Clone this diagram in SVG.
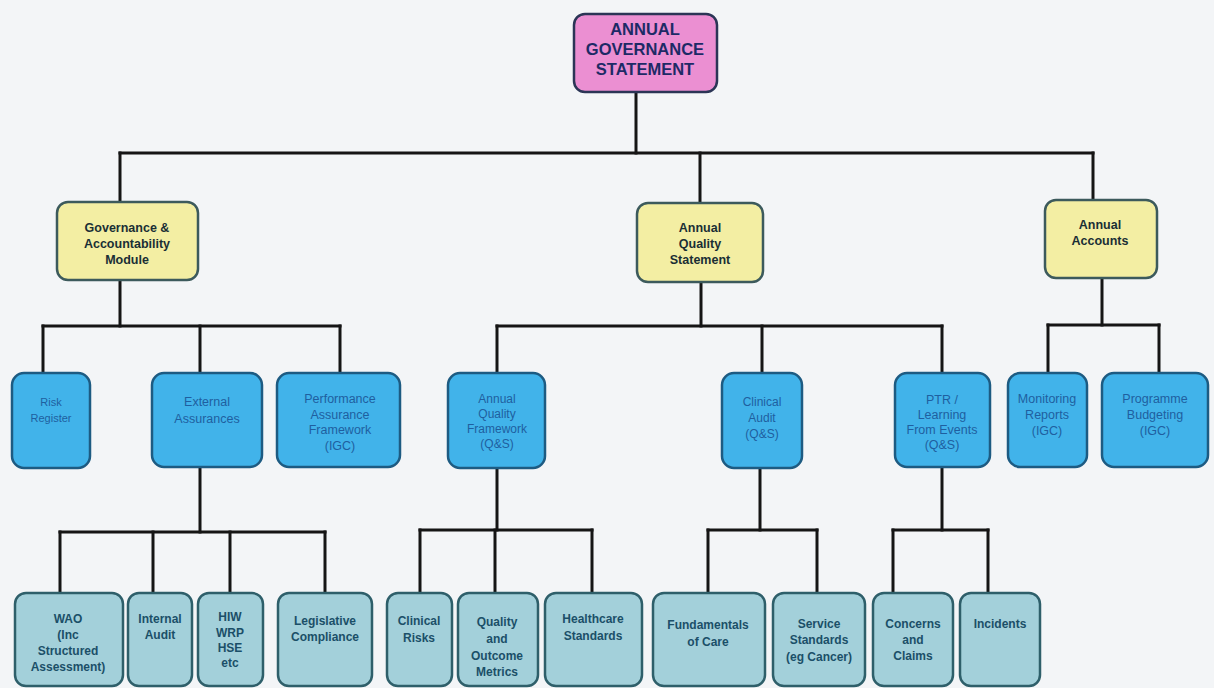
<svg xmlns="http://www.w3.org/2000/svg" width="1214" height="688" viewBox="0 0 1214 688">
<style>
.bg{fill:#f3f5f7}
.conn line{stroke:#151515;stroke-width:3;stroke-linecap:square}
.root rect{fill:#eb8fd2;stroke:#2b3556;stroke-width:2.5}
.root text{fill:#1d2a66;font-family:"Liberation Sans",Arial,sans-serif;font-weight:bold;font-size:16.5px;text-anchor:middle}
.l2 rect{fill:#f3eea3;stroke:#3c5a5c;stroke-width:2.5}
.l2 text{fill:#1a2e35;font-family:"Liberation Sans",Arial,sans-serif;font-weight:bold;font-size:12.5px;text-anchor:middle}
.l3 rect{fill:#41b3ea;stroke:#1d5b82;stroke-width:2.5}
.l3 text{fill:#1f5fa0;font-family:"Liberation Sans",Arial,sans-serif;font-size:12.5px;text-anchor:middle}
.l4 rect{fill:#a3d0da;stroke:#2e5f6a;stroke-width:2.5}
.l4 text{fill:#1b4f68;font-family:"Liberation Sans",Arial,sans-serif;font-weight:bold;font-size:12px;text-anchor:middle}
</style>
<rect class="bg" x="0" y="0" width="1214" height="688"/>
<g id="connectors" class="conn">
<line x1="636" y1="92" x2="636" y2="153"/>
<line x1="120" y1="153" x2="1093" y2="153"/>
<line x1="120" y1="153" x2="120" y2="202"/>
<line x1="700" y1="153" x2="700" y2="203"/>
<line x1="1093" y1="153" x2="1093" y2="200"/>
<line x1="120" y1="280" x2="120" y2="326"/>
<line x1="43" y1="326" x2="340" y2="326"/>
<line x1="43" y1="326" x2="43" y2="373"/>
<line x1="200" y1="326" x2="200" y2="373"/>
<line x1="340" y1="326" x2="340" y2="373"/>
<line x1="701" y1="282" x2="701" y2="326"/>
<line x1="497" y1="326" x2="942" y2="326"/>
<line x1="497" y1="326" x2="497" y2="373"/>
<line x1="762" y1="326" x2="762" y2="373"/>
<line x1="942" y1="326" x2="942" y2="373"/>
<line x1="1102" y1="278" x2="1102" y2="325"/>
<line x1="1048" y1="325" x2="1159" y2="325"/>
<line x1="1048" y1="325" x2="1048" y2="373"/>
<line x1="1159" y1="325" x2="1159" y2="373"/>
<line x1="200" y1="467" x2="200" y2="532"/>
<line x1="60" y1="532" x2="325" y2="532"/>
<line x1="60" y1="532" x2="60" y2="593"/>
<line x1="153" y1="532" x2="153" y2="593"/>
<line x1="230" y1="532" x2="230" y2="593"/>
<line x1="325" y1="532" x2="325" y2="593"/>
<line x1="497" y1="468" x2="497" y2="530"/>
<line x1="420" y1="530" x2="592" y2="530"/>
<line x1="420" y1="530" x2="420" y2="593"/>
<line x1="495" y1="530" x2="495" y2="593"/>
<line x1="592" y1="530" x2="592" y2="593"/>
<line x1="760" y1="468" x2="760" y2="530"/>
<line x1="708" y1="530" x2="817" y2="530"/>
<line x1="708" y1="530" x2="708" y2="593"/>
<line x1="817" y1="530" x2="817" y2="593"/>
<line x1="942" y1="467" x2="942" y2="530"/>
<line x1="893" y1="530" x2="988" y2="530"/>
<line x1="893" y1="530" x2="893" y2="593"/>
<line x1="988" y1="530" x2="988" y2="593"/>
</g>
<g id="root" class="root">
<rect x="574" y="14" width="143" height="78" rx="11"/>
<text x="645" y="35">ANNUAL</text>
<text x="645" y="55">GOVERNANCE</text>
<text x="645" y="75">STATEMENT</text>
</g>
<g id="governance" class="l2">
<rect x="57" y="202" width="141" height="78" rx="11"/>
<text x="127" y="232">Governance &amp;</text>
<text x="127" y="248">Accountability</text>
<text x="127" y="264">Module</text>
</g>
<g id="aqs" class="l2">
<rect x="637" y="203" width="126" height="79" rx="11"/>
<text x="700" y="232">Annual</text>
<text x="700" y="248">Quality</text>
<text x="700" y="264">Statement</text>
</g>
<g id="accounts" class="l2">
<rect x="1045" y="200" width="112" height="78" rx="11"/>
<text x="1100" y="229">Annual</text>
<text x="1100" y="245">Accounts</text>
</g>
<g id="risk" class="l3">
<rect x="12" y="373" width="78" height="95" rx="12"/>
<text x="51" y="406" style="font-size:11px">Risk</text>
<text x="51" y="422" style="font-size:11px">Register</text>
</g>
<g id="external" class="l3">
<rect x="152" y="373" width="110" height="94" rx="12"/>
<text x="207" y="406">External</text>
<text x="207" y="423">Assurances</text>
</g>
<g id="paf" class="l3">
<rect x="277" y="373" width="123" height="94" rx="12"/>
<text x="340" y="403">Performance</text>
<text x="340" y="419">Assurance</text>
<text x="340" y="434">Framework</text>
<text x="340" y="450">(IGC)</text>
</g>
<g id="aqf" class="l3">
<rect x="448" y="373" width="97" height="95" rx="12"/>
<text x="497" y="403" style="font-size:12px">Annual</text>
<text x="497" y="418" style="font-size:12px">Quality</text>
<text x="497" y="433" style="font-size:12px">Framework</text>
<text x="497" y="448" style="font-size:12px">(Q&amp;S)</text>
</g>
<g id="clinicalaudit" class="l3">
<rect x="722" y="373" width="80" height="95" rx="12"/>
<text x="762" y="406" style="font-size:12px">Clinical</text>
<text x="762" y="422" style="font-size:12px">Audit</text>
<text x="762" y="438" style="font-size:12px">(Q&amp;S)</text>
</g>
<g id="ptr" class="l3">
<rect x="895" y="373" width="95" height="94" rx="12"/>
<text x="942" y="404">PTR /</text>
<text x="942" y="419">Learning</text>
<text x="942" y="434">From Events</text>
<text x="942" y="449">(Q&amp;S)</text>
</g>
<g id="monitoring" class="l3">
<rect x="1008" y="373" width="79" height="94" rx="12"/>
<text x="1047" y="403">Monitoring</text>
<text x="1047" y="419">Reports</text>
<text x="1047" y="435">(IGC)</text>
</g>
<g id="programme" class="l3">
<rect x="1102" y="373" width="106" height="94" rx="12"/>
<text x="1155" y="403">Programme</text>
<text x="1155" y="419">Budgeting</text>
<text x="1155" y="435">(IGC)</text>
</g>
<g id="wao" class="l4">
<rect x="15" y="593" width="108" height="93" rx="11"/>
<text x="68" y="623">WAO</text>
<text x="68" y="639">(Inc</text>
<text x="68" y="655">Structured</text>
<text x="68" y="671">Assessment)</text>
</g>
<g id="internalaudit" class="l4">
<rect x="128" y="593" width="64" height="93" rx="11"/>
<text x="160" y="623">Internal</text>
<text x="160" y="639">Audit</text>
</g>
<g id="hiw" class="l4">
<rect x="198" y="593" width="65" height="93" rx="11"/>
<text x="230" y="621">HIW</text>
<text x="230" y="637">WRP</text>
<text x="230" y="652">HSE</text>
<text x="230" y="667">etc</text>
</g>
<g id="legislative" class="l4">
<rect x="278" y="593" width="94" height="93" rx="11"/>
<text x="325" y="625">Legislative</text>
<text x="325" y="641">Compliance</text>
</g>
<g id="clinicalrisks" class="l4">
<rect x="387" y="593" width="65" height="93" rx="11"/>
<text x="419" y="625">Clinical</text>
<text x="419" y="642">Risks</text>
</g>
<g id="quality" class="l4">
<rect x="458" y="593" width="80" height="93" rx="11"/>
<text x="497" y="626">Quality</text>
<text x="497" y="643">and</text>
<text x="497" y="660">Outcome</text>
<text x="497" y="676">Metrics</text>
</g>
<g id="healthcare" class="l4">
<rect x="545" y="593" width="97" height="93" rx="11"/>
<text x="593" y="623">Healthcare</text>
<text x="593" y="640">Standards</text>
</g>
<g id="fundamentals" class="l4">
<rect x="653" y="593" width="112" height="93" rx="11"/>
<text x="708" y="629">Fundamentals</text>
<text x="708" y="646">of Care</text>
</g>
<g id="service" class="l4">
<rect x="773" y="593" width="92" height="93" rx="11"/>
<text x="819" y="628">Service</text>
<text x="819" y="644">Standards</text>
<text x="819" y="661">(eg Cancer)</text>
</g>
<g id="concerns" class="l4">
<rect x="873" y="593" width="80" height="93" rx="11"/>
<text x="913" y="628">Concerns</text>
<text x="913" y="644">and</text>
<text x="913" y="660">Claims</text>
</g>
<g id="incidents" class="l4">
<rect x="960" y="593" width="80" height="93" rx="11"/>
<text x="1000" y="628">Incidents</text>
</g>
</svg>
